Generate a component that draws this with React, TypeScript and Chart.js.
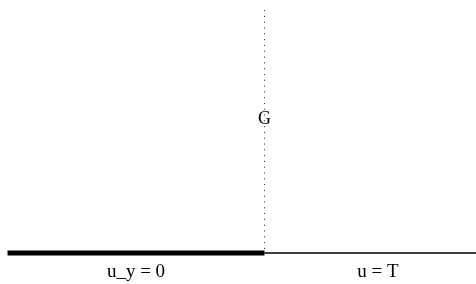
import React, { useEffect, useRef } from "react";
import { Chart, registerables } from "chart.js";

Chart.register(...registerables);

// Boundary segments (data units; interface at x = 0, boundary at y = 0)
const fixedSegmentX = [-1, 0];      // thick part: u_y = 0
const fixedSegmentY = [0, 0];
const freeSegmentX = [0, 1];        // thin part: u = T
const freeSegmentY = [0, 0];
const interfaceX = [0, 0];          // dotted vertical line G
const interfaceY = [0.945, 0];

const labelTexts = ["u_y = 0", "u = T", "G"];
const labelX = [-0.5, 0.441, 0];
const labelY = [-0.0934, -0.0934, 0.5];
const labelSizes = [19, 19, 18];

const X_MIN = -1.0292;
const X_MAX = 0.823;
const Y_MIN = -0.1206;
const Y_MAX = 0.9844;

const pts = (xs: number[], ys: number[]) => xs.map((x, i) => ({ x, y: ys[i] }));

const textPlugin = {
  id: "textLabels",
  afterDatasetsDraw(chart: any) {
    const { ctx, scales } = chart;
    ctx.save();
    ctx.fillStyle = "#000";
    ctx.textAlign = "center";
    ctx.textBaseline = "alphabetic";
    labelTexts.forEach((t, i) => {
      ctx.font = `${labelSizes[i]}px "Liberation Serif", "Times New Roman", serif`;
      ctx.fillText(t, scales.x.getPixelForValue(labelX[i]), scales.y.getPixelForValue(labelY[i]));
    });
    ctx.restore();
  },
};

export default function App() {
  const ref = useRef<HTMLCanvasElement | null>(null);
  useEffect(() => {
    if (!ref.current) return;
    const chart = new Chart(ref.current, {
      type: "scatter",
      data: {
        datasets: [
          {
            data: pts(interfaceX, interfaceY),
            showLine: true,
            borderColor: "#222",
            borderWidth: 1,
            borderDash: [1, 4.8],
            pointRadius: 0,
          },
          {
            data: pts(freeSegmentX, freeSegmentY),
            showLine: true,
            borderColor: "#000",
            borderWidth: 1.3,
            pointRadius: 0,
          },
          {
            data: pts(fixedSegmentX, fixedSegmentY),
            showLine: true,
            borderColor: "#000",
            borderWidth: 5,
            pointRadius: 0,
            borderCapStyle: "butt",
          },
        ],
      },
      options: {
        animation: false,
        responsive: false,
        maintainAspectRatio: false,
        layout: { padding: 0 },
        plugins: { legend: { display: false }, tooltip: { enabled: false } },
        scales: {
          x: { type: "linear", min: X_MIN, max: X_MAX, display: false },
          y: { type: "linear", min: Y_MIN, max: Y_MAX, display: false },
        },
      },
      plugins: [textPlugin],
    });
    return () => chart.destroy();
  }, []);
  return (
    <div style={{ position: "absolute", left: 0, top: 0, width: 476, height: 284, background: "#fff" }}>
      <canvas ref={ref} width={476} height={284} style={{ display: "block", width: 476, height: 284 }} />
    </div>
  );
}
